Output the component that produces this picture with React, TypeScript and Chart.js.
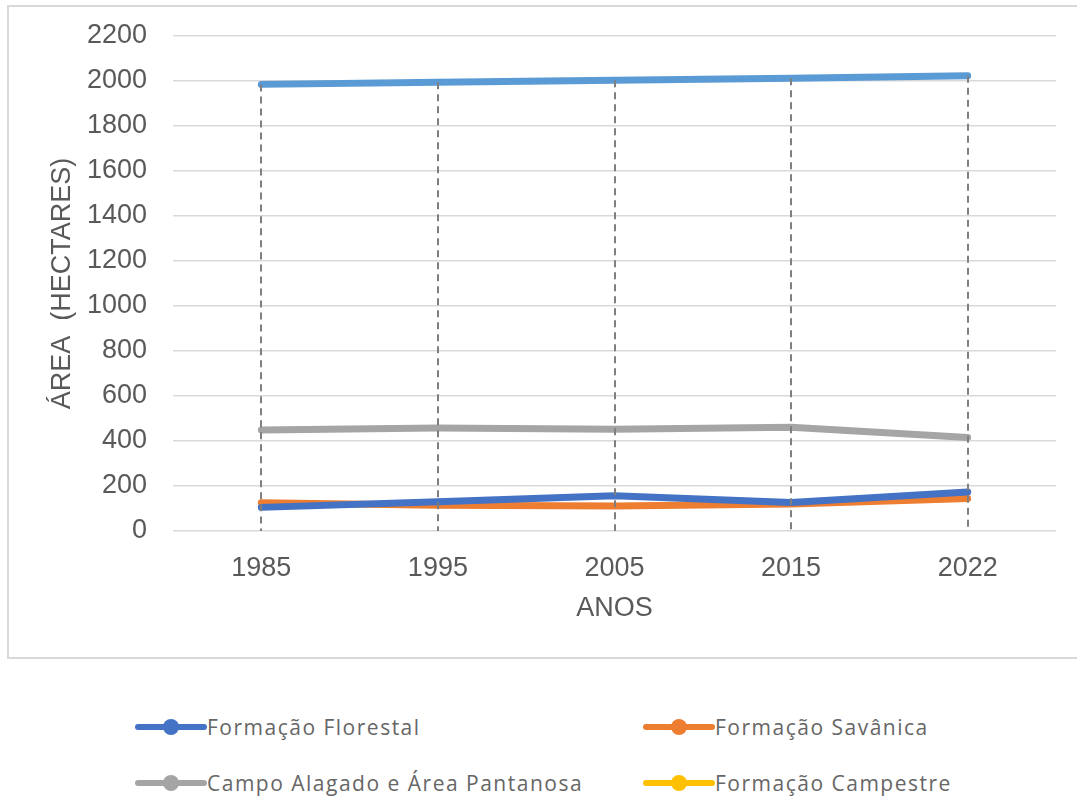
import React, { useEffect, useRef } from "react";
import { Chart, registerables } from "chart.js";

Chart.register(...registerables);

const anos = ["1985", "1995", "2005", "2015", "2022"];
const formacaoFlorestal = [105, 130, 157, 127, 173];
const formacaoSavanica = [126, 114, 111, 120, 144];
const campoAlagado = [449, 458, 452, 461, 416];
const formacaoCampestre: (number | null)[] = [null, null, null, null, null];
const serieSuperior = [1985, 1994, 2003, 2012, 2023];
const yTicks = [0, 200, 400, 600, 800, 1000, 1200, 1400, 1600, 1800, 2000, 2200];

const legendItems = [
  { label: "Formação Florestal", color: "#4472C4" },
  { label: "Formação Savânica", color: "#ED7D31" },
  { label: "Campo Alagado e Área Pantanosa", color: "#A5A5A5" },
  { label: "Formação Campestre", color: "#FFC000" },
];

const dropLines = {
  id: "dropLines",
  afterDatasetsDraw(chart: any) {
    const { ctx, chartArea } = chart;
    const xs = chart.scales.x;
    const ys = chart.scales.y;
    ctx.save();
    ctx.strokeStyle = "#7F7F7F";
    ctx.lineWidth = 2;
    ctx.setLineDash([7, 5]);
    anos.forEach((_, i) => {
      let maxV = -Infinity;
      chart.data.datasets.forEach((ds: any) => {
        const v = ds.data[i];
        if (v != null && v > maxV) maxV = v;
      });
      if (!isFinite(maxV)) return;
      const x = Math.round(xs.getPixelForValue(i));
      ctx.beginPath();
      ctx.moveTo(x, ys.getPixelForValue(maxV));
      ctx.lineTo(x, chartArea.bottom);
      ctx.stroke();
    });
    ctx.restore();
  },
};

export default function App() {
  const ref = useRef<HTMLCanvasElement>(null);
  useEffect(() => {
    if (!ref.current) return;
    const font = { family: "'Liberation Sans', Arial, sans-serif", size: 27 };
    const mk = (label: string, data: any[], color: string, order: number) => ({
      label,
      data,
      borderColor: color,
      backgroundColor: color,
      borderWidth: 7,
      borderCapStyle: "round" as const,
      borderJoinStyle: "round" as const,
      pointRadius: 0,
      tension: 0,
      order,
    });
    const chart = new Chart(ref.current, {
      type: "line",
      data: {
        labels: anos,
        datasets: [
          mk("Formação Florestal", formacaoFlorestal, "#4472C4", 0),
          mk("Formação Savânica", formacaoSavanica, "#ED7D31", 1),
          mk("Campo Alagado e Área Pantanosa", campoAlagado, "#A5A5A5", 2),
          mk("Formação Campestre", formacaoCampestre, "#FFC000", 3),
          mk("Série 5", serieSuperior, "#5B9BD5", 4),
        ],
      },
      options: {
        animation: false,
        responsive: false,
        maintainAspectRatio: false,
        layout: { padding: { left: 46, right: 21, top: 36, bottom: 35 } },
        plugins: { legend: { display: false }, tooltip: { enabled: false } },
        scales: {
          x: {
            offset: true,
            grid: { display: false, drawTicks: false },
            border: { display: false },
            ticks: { color: "#595959", font, padding: 21, maxRotation: 0 },
            title: { display: true, text: "ANOS", color: "#595959", font, padding: { top: 0, bottom: 0 } },
            afterFit: (s: any) => { s.height = 94; s.paddingLeft = 0; s.paddingRight = 0; },
          },
          y: {
            min: 0,
            max: 2200,
            afterBuildTicks: (s: any) => { s.ticks = yTicks.map((v) => ({ value: v })); },
            grid: { color: "#D9D9D9", lineWidth: 1.5, drawTicks: false },
            border: { display: false },
            ticks: { color: "#595959", font, padding: 26, callback: (v: any) => String(v) },
            title: { display: true, text: "ÁREA  (HECTARES)", color: "#595959", font, padding: { top: 0, bottom: 0 } },
            afterFit: (s: any) => { s.width = 127; s.paddingTop = 0; s.paddingBottom = 0; },
          },
        },
      },
      plugins: [dropLines],
    });
    return () => chart.destroy();
  }, []);

  return (
    <div style={{ position: "fixed", left: 0, top: 0, width: 1077, height: 807, background: "#fff", overflow: "hidden" }}>
      <div style={{ position: "absolute", left: 7, top: 5, width: 1080, height: 650, border: "2px solid #D9D9D9" }} />
      <canvas ref={ref} width={1077} height={660} style={{ position: "absolute", left: 0, top: 0 }} />
      {legendItems.map((it, i) => {
        const col = i % 2;
        const row = Math.floor(i / 2);
        const left = col === 0 ? 135 : 643;
        const top = row === 0 ? 727 : 783;
        return (
          <div key={i} style={{ position: "absolute", left, top: top - 15, height: 30, display: "flex", alignItems: "center" }}>
            <div style={{ position: "relative", width: 72, height: 30 }}>
              <div style={{ position: "absolute", left: 0, right: 0, top: 12, height: 6, background: it.color, borderRadius: 3 }} />
              <div style={{ position: "absolute", left: 28, top: 7, width: 16, height: 16, borderRadius: 8, background: it.color }} />
            </div>
            <span style={{ fontFamily: "'Open Sans', sans-serif", fontSize: 21, color: "#666", letterSpacing: 1.5, whiteSpace: "nowrap" }}>{it.label}</span>
          </div>
        );
      })}
    </div>
  );
}
